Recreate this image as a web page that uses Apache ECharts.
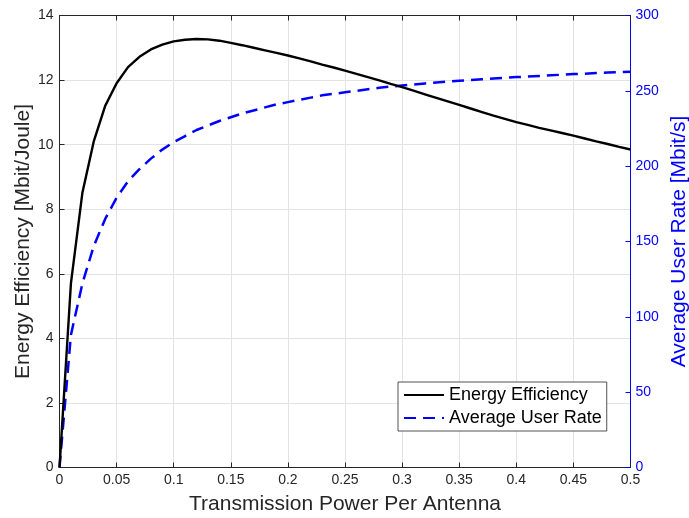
<!DOCTYPE html>
<html><head><meta charset="utf-8">
<script src="https://cdn.jsdelivr.net/npm/echarts@6/dist/echarts.min.js"></script>
<style>html,body{margin:0;padding:0;background:#fff}#c{width:689px;height:518px}</style>
</head><body><div id="c"></div>
<script>
const power = [0,0.01,0.02,0.03,0.04,0.05,0.06,0.07,0.08,0.09,0.10,0.11,0.12,0.13,0.14,0.15,0.16,0.17,0.18,0.19,0.20,0.21,0.22,0.23,0.24,0.25,0.26,0.27,0.28,0.29,0.30,0.31,0.32,0.33,0.34,0.35,0.36,0.37,0.38,0.39,0.40,0.41,0.42,0.43,0.44,0.45,0.46,0.47,0.48,0.49,0.50];
const energyEfficiency = [0,5.7,8.5,10.1,11.2,11.9,12.4,12.72,12.95,13.1,13.2,13.25,13.27,13.26,13.22,13.15,13.08,13.0,12.92,12.84,12.76,12.67,12.58,12.48,12.39,12.29,12.19,12.09,11.99,11.88,11.78,11.67,11.56,11.45,11.34,11.23,11.12,11.01,10.9,10.8,10.7,10.61,10.52,10.44,10.36,10.28,10.19,10.1,10.02,9.93,9.85];
const userRate = [0,88,122,147,165,179,190,198,205,211,216,220,224,227,230,232.5,235,237,239,241,242.5,244,245.5,247,248,249,250,251,252,252.8,253.5,254.2,254.9,255.5,256.1,256.7,257.2,257.7,258.2,258.7,259.1,259.5,259.9,260.3,260.7,261.1,261.4,261.8,262.1,262.4,262.7];
const seriesNames = ['Energy Efficiency','Average User Rate'];
const xTitle = 'Transmission Power Per Antenna';
const yLeftTitle = 'Energy Efficiency [Mbit/Joule]';
const yRightTitle = 'Average User Rate [Mbit/s]';

const FONT = '"Liberation Sans", Arial, sans-serif';
const DARK = '#262626';
const BLUE = '#0000ff';
const GRIDC = '#e3e3e3';
const chart = echarts.init(document.getElementById('c'), null, {renderer:'canvas'});
chart.setOption({
  animation:false,
  textStyle:{fontFamily:FONT},
  grid:{left:59.5,right:58.5,top:15.5,bottom:50.5,containLabel:false,outerBoundsMode:'none'},
  legend:{
    data:seriesNames, orient:'vertical', left:398, top:382,
    padding:[4,5,4,5], itemGap:5, itemWidth:40, itemHeight:18,
    backgroundColor:'#fff', borderColor:DARK, borderWidth:0.8, borderRadius:0,
    itemStyle:{opacity:0},
    textStyle:{fontSize:18,color:'#000',fontFamily:FONT}
  },
  xAxis:[{
    type:'value', min:0, max:0.5, interval:0.05,
    name:xTitle, nameLocation:'middle', nameGap:26, nameMoveOverlap:false,
    nameTextStyle:{fontSize:21,color:DARK,fontFamily:FONT},
    axisLine:{show:true,onZero:false,lineStyle:{color:DARK,width:1}},
    axisTick:{show:true,inside:true,length:5,lineStyle:{color:DARK}},
    axisLabel:{fontSize:14,color:DARK,margin:6,fontFamily:FONT,formatter:v=>String(+v.toFixed(2))},
    splitLine:{show:true,lineStyle:{color:GRIDC,width:1}}
  },{
    type:'value', min:0, max:0.5, interval:0.05, position:'top',
    axisLine:{show:true,onZero:false,lineStyle:{color:DARK,width:1}},
    axisTick:{show:true,inside:true,length:5,lineStyle:{color:DARK}},
    axisLabel:{show:false}, splitLine:{show:false}
  }],
  yAxis:[{
    type:'value', min:0, max:14, interval:2, position:'left',
    name:yLeftTitle, nameLocation:'middle', nameGap:26, nameRotate:90, nameMoveOverlap:false,
    nameTextStyle:{fontSize:21,color:DARK,fontFamily:FONT},
    axisLine:{show:true,onZero:false,lineStyle:{color:DARK,width:1}},
    axisTick:{show:true,inside:true,length:5,lineStyle:{color:DARK}},
    axisLabel:{fontSize:14,color:DARK,margin:6,fontFamily:FONT},
    splitLine:{show:true,lineStyle:{color:GRIDC,width:1}}
  },{
    type:'value', min:0, max:300, interval:50, position:'right',
    name:yRightTitle, nameLocation:'middle', nameGap:38, nameRotate:90, nameMoveOverlap:false,
    nameTextStyle:{fontSize:21,color:BLUE,fontFamily:FONT},
    axisLine:{show:true,onZero:false,lineStyle:{color:BLUE,width:1}},
    axisTick:{show:true,inside:true,length:5,lineStyle:{color:BLUE}},
    axisLabel:{fontSize:14,color:BLUE,margin:5,fontFamily:FONT},
    splitLine:{show:false}
  }],
  series:[{
    name:seriesNames[0], type:'line', xAxisIndex:0, yAxisIndex:0,
    data:power.map((p,i)=>[p,energyEfficiency[i]]),
    symbol:'none', smooth:false, color:'#000',
    lineStyle:{color:'#000',width:2.4}, z:3
  },{
    name:seriesNames[1], type:'line', xAxisIndex:0, yAxisIndex:1,
    data:power.map((p,i)=>[p,userRate[i]]),
    symbol:'none', smooth:false, color:BLUE,
    lineStyle:{color:BLUE,width:2.5,type:[12,7]}, z:2
  }]
});
</script></body></html>
